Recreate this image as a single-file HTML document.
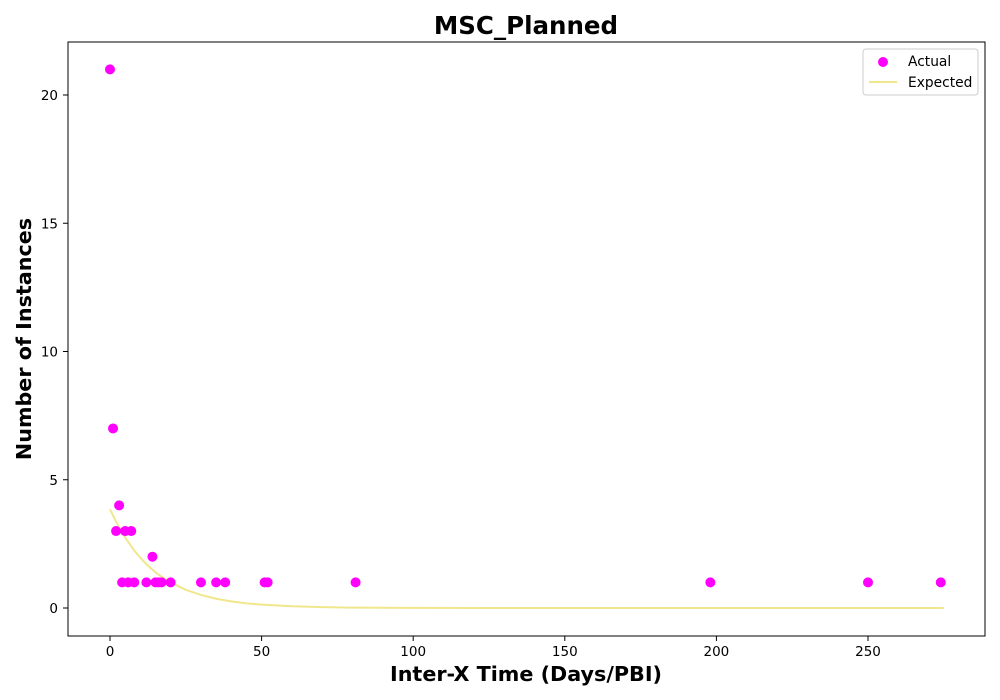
<!DOCTYPE html>
<html><head><meta charset="utf-8"><style>
body{margin:0;background:#fff;}
svg{display:block;font-family:"DejaVu Sans","Liberation Sans",sans-serif;}
</style></head><body>
<svg id="chart" width="1000" height="700" viewBox="0 0 1000 700">
<rect width="1000" height="700" fill="#fff"/>
<text x="526" y="34" text-anchor="middle" font-size="24.5" font-weight="bold">MSC_Planned</text>
<text x="526" y="681" text-anchor="middle" font-size="20.7" font-weight="bold">Inter-X Time (Days/PBI)</text>
<text transform="translate(31,339) rotate(-90)" text-anchor="middle" font-size="20.7" font-weight="bold">Number of Instances</text>
<g id="xticks"></g>
<g id="yticks"></g>
<g id="plot"></g>
<rect x="68" y="42" width="917" height="594" fill="none" stroke="#000" stroke-width="1"/>
<g>
<rect x="863" y="49" width="115" height="46" fill="#fff" stroke="#ccc" rx="3"/>
<circle cx="883" cy="62" r="5" fill="#ff00ff"/>
<text x="908" y="66" font-size="13.8">Actual</text>
<line x1="869" y1="82" x2="897" y2="82" stroke="#f0e68c" stroke-width="2"/>
<text x="908" y="87" font-size="13.8">Expected</text>
</g>
</svg>
<script>
const actualX = [0,1,2,3,5,7,4,6,8,12,14,15,16,17,20,30,35,38,51,52,81,198,250,274];
const actualY = [21,7,3,4,3,3,1,1,1,1,2,1,1,1,1,1,1,1,1,1,1,1,1,1];
const expectedX = [0,2,5,8,10,12,15,18,20,25,30,35,40,45,50,60,70,80,100,125,150,200,275];
const expectedY = [3.85,3.36,2.75,2.24,1.96,1.71,1.39,1.14,1.0,0.71,0.51,0.36,0.26,0.18,0.13,0.067,0.034,0.017,0.004,0.001,0,0,0];
const xTicks = [0,50,100,150,200,250];
const yTicks = [0,5,10,15,20];
const NS="http://www.w3.org/2000/svg";
function sx(v){return 110+v*3.032;}
function sy(v){return 608-v*25.65;}
function mk(t,a,p){const e=document.createElementNS(NS,t);for(const k in a)e.setAttribute(k,a[k]);p.appendChild(e);return e;}
const xt=document.getElementById('xticks'),yt=document.getElementById('yticks'),pl=document.getElementById('plot');
xTicks.forEach(v=>{
 const l=mk('line',{x1:sx(v),x2:sx(v),y1:636,y2:641,stroke:'#000'},xt);
 
 
 const t=mk('text',{x:sx(v),y:656,'text-anchor':'middle','font-size':13.5},xt);t.textContent=v;
 
 
});
yTicks.forEach(v=>{
 const l=mk('line',{x1:63,x2:68,y1:sy(v),y2:sy(v),stroke:'#000'},yt);
 
 
 const t=mk('text',{x:58,y:sy(v)+5,'text-anchor':'end','font-size':13.5},yt);t.textContent=v;
 
 
});
let d='';expectedX.forEach((x,i)=>{d+=(i?'L':'M')+sx(x)+','+sy(expectedY[i]);});
const path=mk('path',{d:d,fill:'none',stroke:'#f0e68c','stroke-width':2},pl);


actualX.forEach((x,i)=>{
 const c=mk('circle',{cx:sx(x),cy:sy(actualY[i]),r:5,fill:'#ff00ff'},pl);
 
 
});
</script>
</body></html>
